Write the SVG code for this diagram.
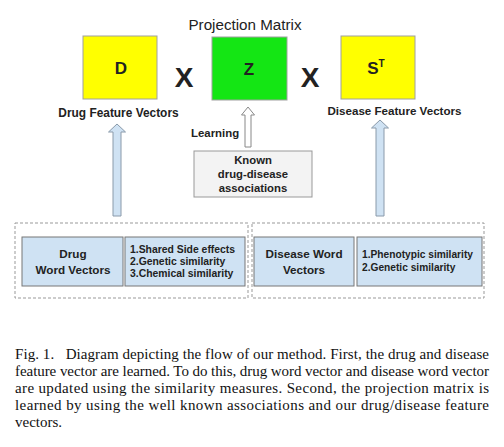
<svg xmlns="http://www.w3.org/2000/svg" width="504" height="447" viewBox="0 0 504 447">
<style>
.sans{font-family:"Liberation Sans",Arial,sans-serif;fill:#222}
.b{font-weight:bold}
.mat{stroke:#a0a0a0;stroke-width:1}
.blue{fill:#cfe2f3;stroke:#777;stroke-width:1}
.dash{fill:none;stroke:#999;stroke-width:1;stroke-dasharray:3,2}
.cap{font-family:"Liberation Serif","Times New Roman",serif;font-size:15px;fill:#111}
.arr{fill:#cfe2f3;stroke:#8a9aaa;stroke-width:1}
</style>
<rect width="504" height="447" fill="#fff"/>
<g id="title"><text class="sans" x="245" y="30" font-size="15.2" text-anchor="middle" fill="#333">Projection Matrix</text></g>
<g id="D">
<rect class="mat" x="83" y="36" width="74" height="63" fill="#ffff00"/>
<text class="sans b" x="121" y="74" font-size="17" text-anchor="middle">D</text>
<text class="sans b" x="118.5" y="117" font-size="11.9" text-anchor="middle">Drug Feature Vectors</text>
</g>
<g id="times1"><text class="sans b" x="184" y="87" font-size="28" text-anchor="middle">X</text></g>
<g id="Z">
<rect class="mat" x="212" y="37" width="75" height="63" fill="#14e614"/>
<text class="sans b" x="249" y="75" font-size="17" text-anchor="middle">Z</text>
</g>
<g id="times2"><text class="sans b" x="310" y="87" font-size="28" text-anchor="middle">X</text></g>
<g id="ST">
<rect class="mat" x="341" y="36" width="74" height="63" fill="#ffff00"/>
<text class="sans b" x="376" y="74" font-size="17" text-anchor="middle">S<tspan font-size="10" dy="-7">T</tspan></text>
<text class="sans b" x="394.5" y="115" font-size="11.6" text-anchor="middle">Disease Feature Vectors</text>
</g>
<g id="known">
<rect x="194" y="151" width="118" height="46" fill="#f3f3f3" stroke="#999"/>
<text class="sans b" font-size="11.3" text-anchor="middle"><tspan x="253" y="164">Known</tspan><tspan x="253" y="178">drug-disease</tspan><tspan x="253" y="192">associations</tspan></text>
</g>
<g id="drugGroup">
<rect class="dash" x="15" y="223" width="233" height="75"/>
<rect class="blue" x="22" y="237" width="101" height="49"/>
<text class="sans b" font-size="11.7" text-anchor="middle"><tspan x="73" y="258">Drug</tspan><tspan x="73" y="274">Word Vectors</tspan></text>
<rect class="blue" x="125" y="237" width="120" height="49"/>
<text class="sans b" font-size="10.4"><tspan x="130" y="253">1.Shared Side effects</tspan><tspan x="130" y="265">2.Genetic similarity</tspan><tspan x="130" y="277">3.Chemical similarity</tspan></text>
</g>
<g id="diseaseGroup">
<rect class="dash" x="252" y="223" width="232" height="75"/>
<rect class="blue" x="254" y="237" width="100" height="49"/>
<text class="sans b" font-size="11.7" text-anchor="middle"><tspan x="304" y="258">Disease Word</tspan><tspan x="304" y="274">Vectors</tspan></text>
<rect class="blue" x="357" y="237" width="125" height="49"/>
<text class="sans b" font-size="10.2"><tspan x="362" y="258">1.Phenotypic similarity</tspan><tspan x="362" y="271">2.Genetic similarity</tspan></text>
</g>
<g id="connectors">
<polygon class="arr" points="117,124 125.5,132 121,132 121,216 113,216 113,132 108.5,132"/>
<polygon class="arr" points="380,120 388.5,128 384,128 384,216 376,216 376,128 371.5,128"/>
<polygon points="248,107 254.5,115 251,115 251,147 245,147 245,115 241.5,115" fill="#fff" stroke="#888"/>
<text class="sans b" x="191" y="137" font-size="11.4">Learning</text>
</g>
<g id="caption">
<text class="cap" x="15" y="359" textLength="474" lengthAdjust="spacing" xml:space="preserve">Fig. 1.   Diagram depicting the flow of our method. First, the drug and disease</text>
<text class="cap" x="15" y="376" textLength="474" lengthAdjust="spacing">feature vector are learned. To do this, drug word vector and disease word vector</text>
<text class="cap" x="15" y="393" textLength="474" lengthAdjust="spacing">are updated using the similarity measures. Second, the projection matrix is</text>
<text class="cap" x="15" y="410" textLength="474" lengthAdjust="spacing">learned by using the well known associations and our drug/disease feature</text>
<text class="cap" x="15" y="427">vectors.</text>
</g>
</svg>
